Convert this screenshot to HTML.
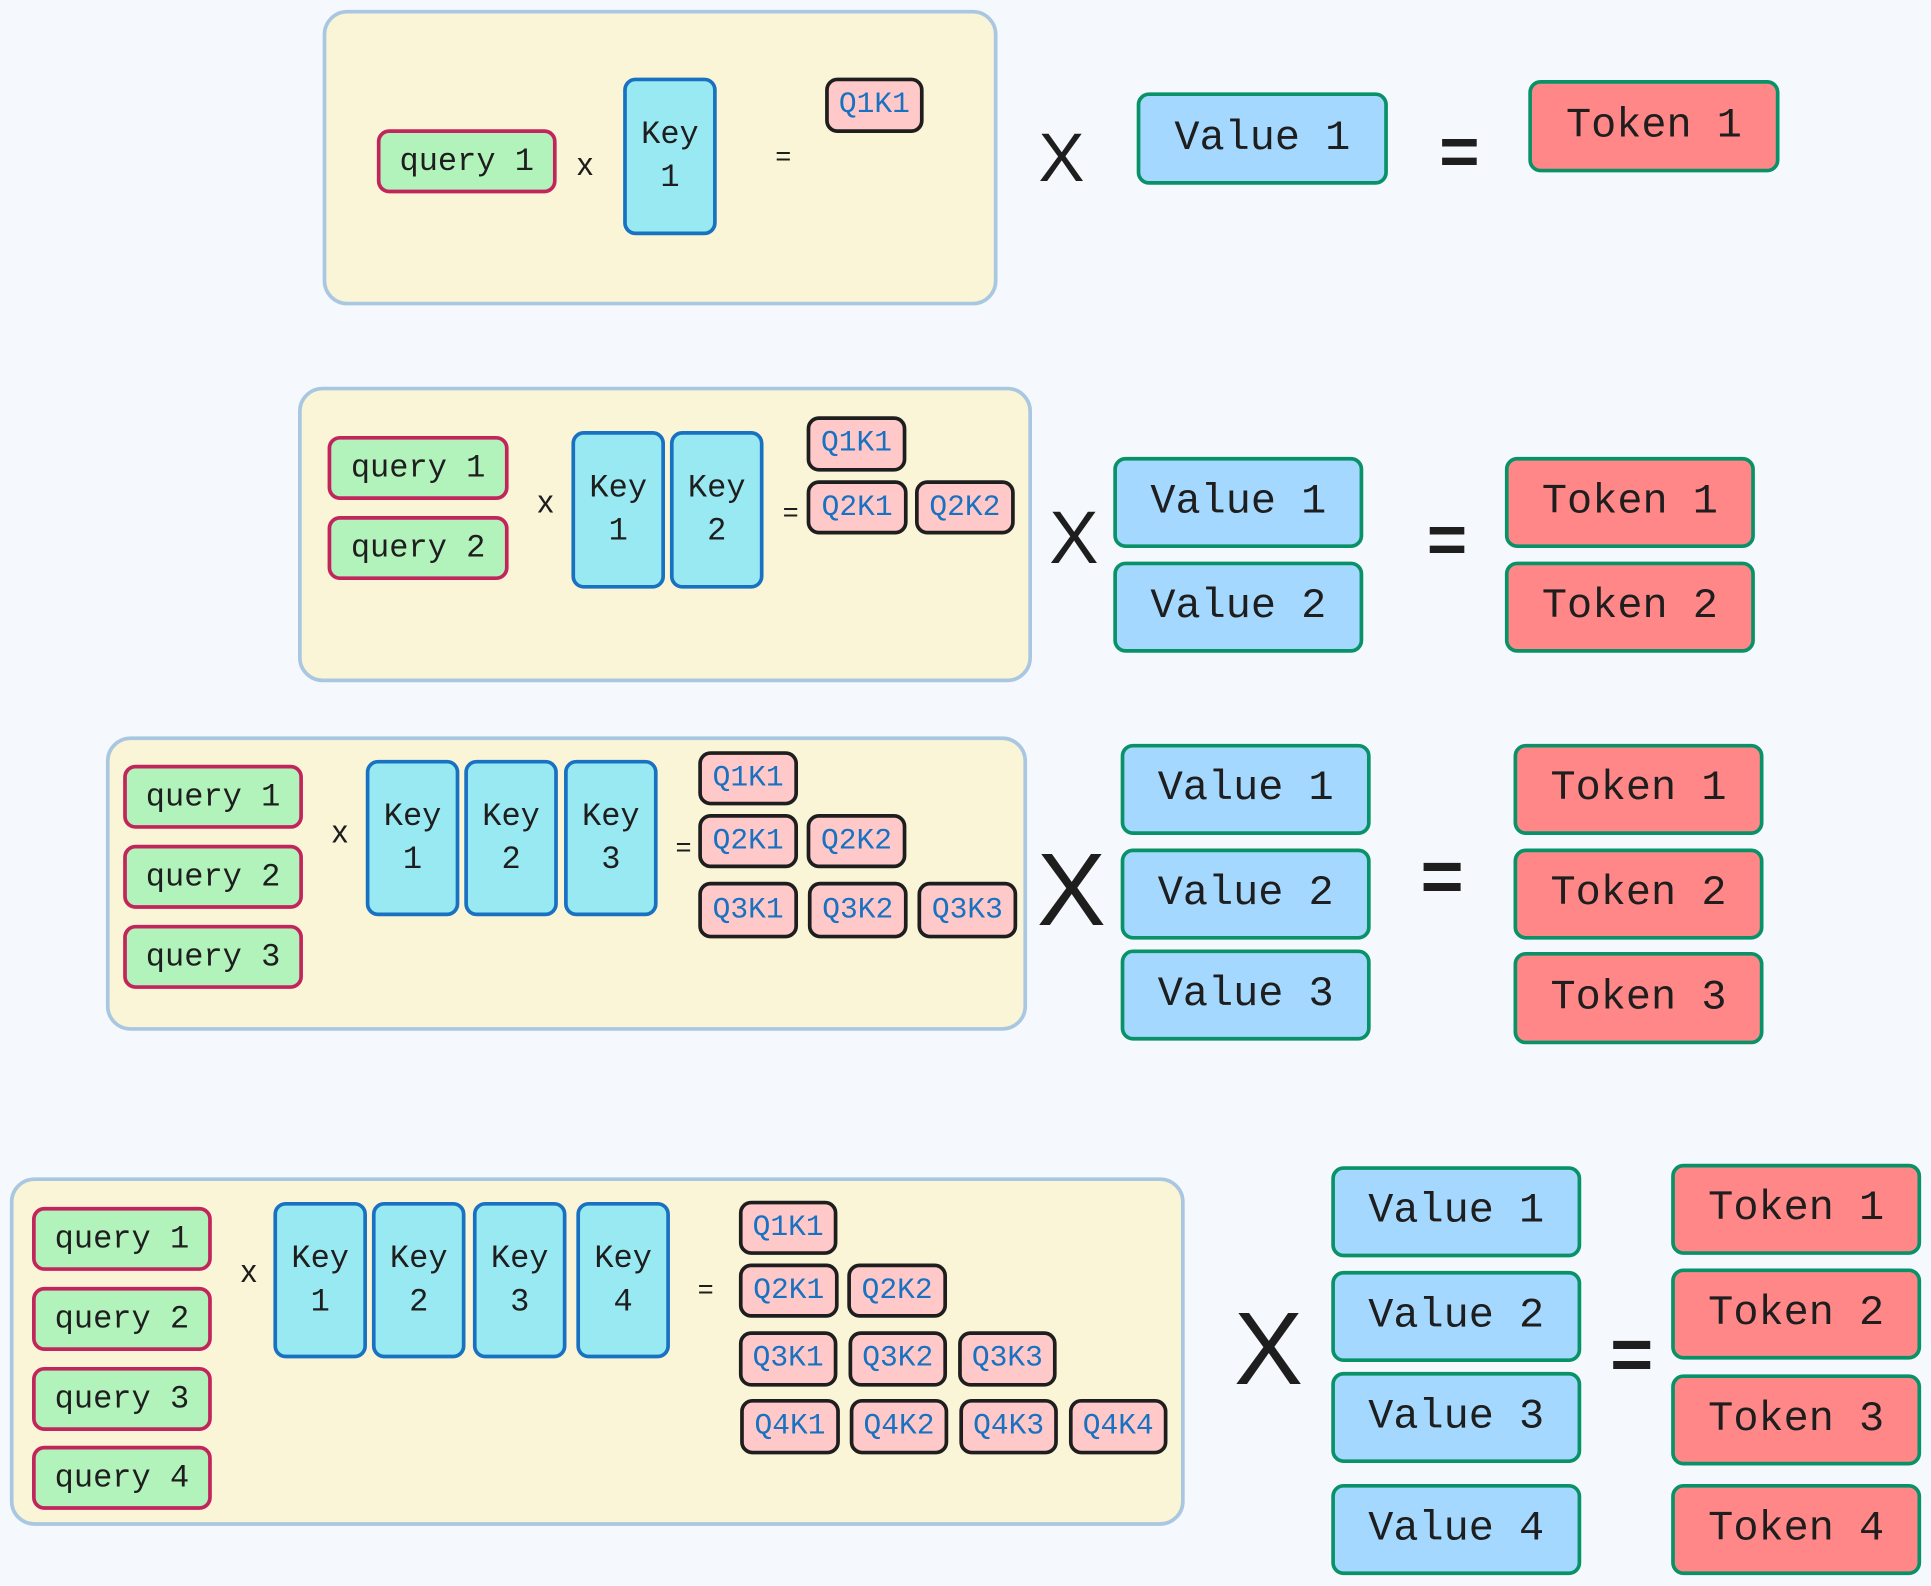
<!DOCTYPE html>
<html><head><meta charset="utf-8"><style>
html,body{margin:0;padding:0;background:#f5f9fd;}
body{width:1931px;height:1586px;overflow:hidden;position:relative;}
#w{position:absolute;left:0;top:0;width:1568px;height:1288px;transform:scale(1.2315);transform-origin:0 0;}
.p{position:absolute;box-sizing:border-box;background:#fbf5d8;border:3px solid #a9c7e0;border-radius:20px;}
.b{position:absolute;box-sizing:border-box;border-radius:10px;display:flex;align-items:center;justify-content:center;text-align:center;font-family:"Liberation Mono","DejaVu Sans Mono",monospace;color:#1e1e1e;white-space:pre;}
.q{background:#b2f2bb;border:3px solid #c2255c;font-size:26px;}
.k{background:#99e9f2;border:3px solid #1971c2;font-size:26px;line-height:35px;}
.r{background:#ffc9c9;border:3px solid #1e1e1e;color:#1971c2;font-size:24px;}
.v{background:#a5d8ff;border:3px solid #099268;font-size:34px;}
.t{background:#ff8787;border:3px solid #099268;font-size:34px;}
.s{position:absolute;font-family:"Liberation Sans",sans-serif;color:#1e1e1e;transform:translate(-50%,-50%);line-height:1;}
</style></head><body><div id="w">

<!-- panel 1 -->
<div class="p" style="left:262px;top:8px;width:548px;height:240px"></div>
<div class="b q" style="left:306px;top:105px;width:146px;height:52px">query 1</div>
<div class="s" style="left:475px;top:133px;font-size:26px">x</div>
<div class="b k" style="left:506px;top:63px;width:76px;height:128px">Key<br>1</div>
<div class="s" style="left:636px;top:127px;font-size:22px">=</div>
<div class="b r" style="left:670px;top:63px;width:80px;height:45px">Q1K1</div>
<div class="s" style="left:862px;top:128px;font-size:56px">X</div>
<div class="b v" style="left:923px;top:75px;width:204px;height:75px">Value 1</div>
<div class="s" style="left:1185px;top:123px;font-size:56px;font-weight:bold">=</div>
<div class="b t" style="left:1241px;top:65px;width:204px;height:75px">Token 1</div>

<!-- panel 2 -->
<div class="p" style="left:242px;top:314px;width:596px;height:240px"></div>
<div class="b q" style="left:266px;top:354px;width:147px;height:52px">query 1</div>
<div class="b q" style="left:266px;top:419px;width:147px;height:52px">query 2</div>
<div class="s" style="left:443px;top:407px;font-size:26px">x</div>
<div class="b k" style="left:464px;top:350px;width:76px;height:128px">Key<br>1</div>
<div class="b k" style="left:544px;top:350px;width:76px;height:128px">Key<br>2</div>
<div class="s" style="left:642px;top:416px;font-size:22px">=</div>
<div class="b r" style="left:655px;top:338px;width:81px;height:45px">Q1K1</div>
<div class="b r" style="left:655px;top:390px;width:82px;height:44px">Q2K1</div>
<div class="b r" style="left:743px;top:390px;width:81px;height:44px">Q2K2</div>
<div class="s" style="left:872px;top:437px;font-size:60px">X</div>
<div class="b v" style="left:904px;top:371px;width:203px;height:74px">Value 1</div>
<div class="b v" style="left:904px;top:456px;width:203px;height:74px">Value 2</div>
<div class="s" style="left:1175px;top:438px;font-size:56px;font-weight:bold">=</div>
<div class="b t" style="left:1222px;top:371px;width:203px;height:74px">Token 1</div>
<div class="b t" style="left:1222px;top:456px;width:203px;height:74px">Token 2</div>

<!-- panel 3 -->
<div class="p" style="left:86px;top:598px;width:748px;height:239px"></div>
<div class="b q" style="left:100px;top:621px;width:146px;height:52px">query 1</div>
<div class="b q" style="left:100px;top:686px;width:146px;height:52px">query 2</div>
<div class="b q" style="left:100px;top:751px;width:146px;height:52px">query 3</div>
<div class="s" style="left:276px;top:675px;font-size:26px">x</div>
<div class="b k" style="left:297px;top:617px;width:76px;height:127px">Key<br>1</div>
<div class="b k" style="left:377px;top:617px;width:76px;height:127px">Key<br>2</div>
<div class="b k" style="left:458px;top:617px;width:76px;height:127px">Key<br>3</div>
<div class="s" style="left:555px;top:688px;font-size:22px">=</div>
<div class="b r" style="left:567px;top:610px;width:81px;height:44px">Q1K1</div>
<div class="b r" style="left:567px;top:661px;width:81px;height:44px">Q2K1</div>
<div class="b r" style="left:655px;top:661px;width:81px;height:44px">Q2K2</div>
<div class="b r" style="left:567px;top:716px;width:81px;height:46px">Q3K1</div>
<div class="b r" style="left:656px;top:716px;width:81px;height:46px">Q3K2</div>
<div class="b r" style="left:745px;top:716px;width:81px;height:46px">Q3K3</div>
<div class="s" style="left:870px;top:722px;font-size:84px">X</div>
<div class="b v" style="left:910px;top:604px;width:203px;height:74px">Value 1</div>
<div class="b v" style="left:910px;top:689px;width:203px;height:74px">Value 2</div>
<div class="b v" style="left:910px;top:771px;width:203px;height:74px">Value 3</div>
<div class="s" style="left:1171px;top:712px;font-size:60px;font-weight:bold">=</div>
<div class="b t" style="left:1229px;top:604px;width:203px;height:74px">Token 1</div>
<div class="b t" style="left:1229px;top:689px;width:203px;height:74px">Token 2</div>
<div class="b t" style="left:1229px;top:773px;width:203px;height:75px">Token 3</div>

<!-- panel 4 -->
<div class="p" style="left:8px;top:956px;width:954px;height:283px"></div>
<div class="b q" style="left:26px;top:980px;width:146px;height:52px">query 1</div>
<div class="b q" style="left:26px;top:1045px;width:146px;height:52px">query 2</div>
<div class="b q" style="left:26px;top:1110px;width:146px;height:52px">query 3</div>
<div class="b q" style="left:26px;top:1174px;width:146px;height:52px">query 4</div>
<div class="s" style="left:202px;top:1032px;font-size:26px">x</div>
<div class="b k" style="left:222px;top:976px;width:76px;height:127px">Key<br>1</div>
<div class="b k" style="left:302px;top:976px;width:76px;height:127px">Key<br>2</div>
<div class="b k" style="left:384px;top:976px;width:76px;height:127px">Key<br>3</div>
<div class="b k" style="left:468px;top:976px;width:76px;height:127px">Key<br>4</div>
<div class="s" style="left:573px;top:1047px;font-size:22px">=</div>
<div class="b r" style="left:600px;top:975px;width:80px;height:44px">Q1K1</div>
<div class="b r" style="left:600px;top:1026px;width:81px;height:44px">Q2K1</div>
<div class="b r" style="left:688px;top:1026px;width:81px;height:44px">Q2K2</div>
<div class="b r" style="left:600px;top:1081px;width:80px;height:45px">Q3K1</div>
<div class="b r" style="left:689px;top:1081px;width:80px;height:45px">Q3K2</div>
<div class="b r" style="left:778px;top:1081px;width:80px;height:45px">Q3K3</div>
<div class="b r" style="left:601px;top:1136px;width:81px;height:45px">Q4K1</div>
<div class="b r" style="left:690px;top:1136px;width:80px;height:45px">Q4K2</div>
<div class="b r" style="left:779px;top:1136px;width:80px;height:45px">Q4K3</div>
<div class="b r" style="left:868px;top:1136px;width:80px;height:45px">Q4K4</div>
<div class="s" style="left:1030px;top:1095px;font-size:84px">X</div>
<div class="b v" style="left:1081px;top:947px;width:203px;height:74px">Value 1</div>
<div class="b v" style="left:1081px;top:1032px;width:203px;height:74px">Value 2</div>
<div class="b v" style="left:1081px;top:1114px;width:203px;height:74px">Value 3</div>
<div class="b v" style="left:1081px;top:1205px;width:203px;height:74px">Value 4</div>
<div class="s" style="left:1325px;top:1100px;font-size:60px;font-weight:bold">=</div>
<div class="b t" style="left:1357px;top:945px;width:203px;height:74px">Token 1</div>
<div class="b t" style="left:1357px;top:1030px;width:203px;height:74px">Token 2</div>
<div class="b t" style="left:1357px;top:1116px;width:203px;height:74px">Token 3</div>
<div class="b t" style="left:1357px;top:1205px;width:203px;height:74px">Token 4</div>

</div></body></html>
